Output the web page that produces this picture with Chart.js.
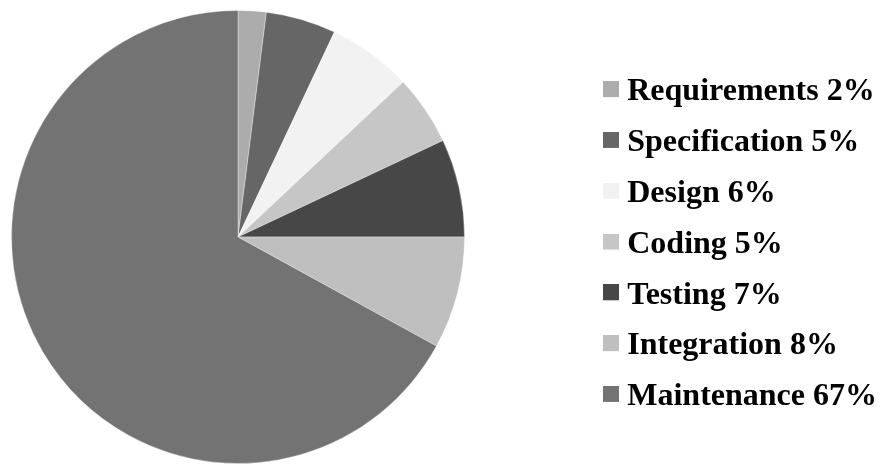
<!DOCTYPE html>
<html>
<head>
<meta charset="utf-8">
<script src="https://cdn.jsdelivr.net/npm/chart.js@4/dist/chart.umd.min.js"></script>
<style>
  html, body { margin: 0; padding: 0; background: #ffffff; }
  #wrap { width: 880px; height: 464px; }
</style>
</head>
<body>
<div id="wrap"><canvas id="c" width="880" height="464"></canvas></div>
<script>
// ---- data ----
const categories = ['Requirements', 'Specification', 'Design', 'Coding', 'Testing', 'Integration', 'Maintenance'];
const shares = [2, 5, 6, 5, 7, 8, 67];
const colors = ['#acacac', '#666666', '#f2f2f2', '#c6c6c6', '#474747', '#bfbfbf', '#737373'];

// ---- styling ----
const PIE_AREA = { left: 0, top: 10, right: 476, bottom: 464 };
const SWATCH = 16;

function makeSwatch(color) {
  const cv = document.createElement('canvas');
  cv.width = SWATCH;
  cv.height = SWATCH + 6;
  const g = cv.getContext('2d');
  g.fillStyle = color;
  g.fillRect(0, 0, SWATCH, SWATCH);
  return cv;
}

// keep the pie in the left part of the canvas, legend stays on the right
const pieAreaPlugin = {
  id: 'pieArea',
  afterLayout(chart) {
    const a = chart.chartArea;
    a.left = PIE_AREA.left; a.top = PIE_AREA.top;
    a.right = PIE_AREA.right; a.bottom = PIE_AREA.bottom;
    a.width = a.right - a.left; a.height = a.bottom - a.top;
  }
};

new Chart(document.getElementById('c'), {
  type: 'pie',
  data: {
    labels: categories,
    datasets: [{
      data: shares,
      backgroundColor: colors,
      borderColor: 'rgba(255,255,255,0.35)',
      borderWidth: 1
    }]
  },
  options: {
    responsive: false,
    devicePixelRatio: 1,
    animation: false,
    layout: { padding: { top: 25, right: -7, left: 0, bottom: 0 } },
    plugins: {
      tooltip: { enabled: false },
      legend: {
        position: 'right',
        labels: {
          usePointStyle: true,
          boxWidth: 1,
          boxHeight: SWATCH,
          padding: 18.8,
          color: '#000000',
          font: { family: "'Liberation Serif', 'Times New Roman', serif", size: 32, weight: 'bold' },
          generateLabels(chart) {
            return categories.map((name, i) => ({
              text: name + ' ' + shares[i] + '%',
              fillStyle: colors[i],
              strokeStyle: colors[i],
              lineWidth: 0,
              pointStyle: makeSwatch(colors[i]),
              fontColor: '#000000',
              hidden: !chart.getDataVisibility(i),
              index: i
            }));
          }
        }
      }
    }
  },
  plugins: [pieAreaPlugin]
});
</script>
</body>
</html>
